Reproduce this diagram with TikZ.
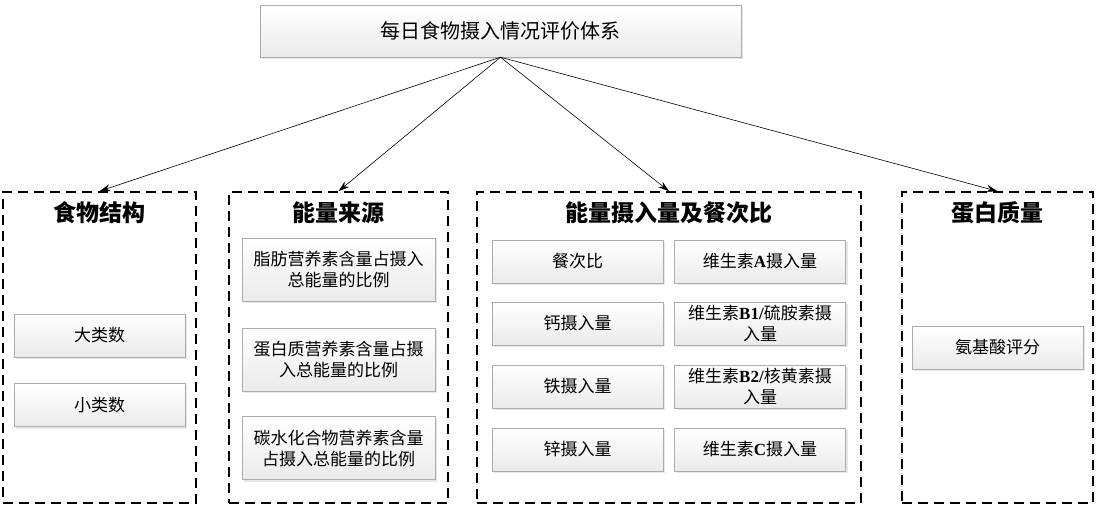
\documentclass[tikz,border=0pt]{standalone}
\usepackage{fontspec}
\setmainfont{Noto Sans CJK SC}
\newfontfamily\latf{Liberation Serif}
\usetikzlibrary{arrows.meta,shadows}
\newcommand{\vit}[1]{{\latf\bfseries #1}}

\begin{document}
\begin{tikzpicture}[x=1pt, y=-1pt, >={Stealth[length=11pt,width=7pt]},
    item/.style={draw=gray!65, top color=white, bottom color=gray!16,
        drop shadow={opacity=0.2, shadow xshift=2pt, shadow yshift=-2pt},
        minimum width=171pt, minimum height=43pt, inner sep=2pt,
        align=center, font=\fontsize{17}{21}\selectfont},
    group/.style={draw, line width=1.5pt, dash pattern=on 10pt off 6pt,
        minimum height=311pt, inner sep=0pt},
    title/.style={font=\fontsize{23}{27}\selectfont\bfseries}]

    \useasboundingbox (0,0) rectangle (1098,508);

    % root
    \node[item, minimum width=481pt, minimum height=52pt,
        font=\fontsize{20}{24}\selectfont] (root) at (500.5,31)
        {每日食物摄入情况评价体系};

    % groups
    \node[group, minimum width=193pt] (g1) at (99.5,347.5) {};
    \node[group, minimum width=219pt] (g2) at (338.5,347.5) {};
    \node[group, minimum width=384pt] (g3) at (669,347.5) {};
    \node[group, minimum width=191pt] (g4) at (997.5,347.5) {};

    \node[title] (t1) at (99.5,213) {食物结构};
    \node[title] (t2) at (338.5,213) {能量来源};
    \node[title] (t3) at (669,213) {能量摄入量及餐次比};
    \node[title] (t4) at (997.5,213) {蛋白质量};

    % arrows
    \foreach \g in {g1,g2,g3,g4}{
        \draw[->, line width=0.6pt] (root.south) -- (\g.north);
    }

    % food structure
    \node[item] (big) at (99.5,335.5) {大类数};
    \node[item] (small) at (99.5,405) {小类数};

    % energy source
    \node[item, minimum width=193pt, minimum height=63pt] (fat) at (338.5,269.5)
        {脂肪营养素含量占摄入\\总能量的比例};
    \node[item, minimum width=193pt, minimum height=63pt] (prot) at (338.5,359.5)
        {蛋白质营养素含量占摄\\入总能量的比例};
    \node[item, minimum width=193pt, minimum height=63pt] (carb) at (338.5,448)
        {碳水化合物营养素含量\\占摄入总能量的比例};

    % energy intake
    \node[item] (meal) at (577.5,261.5) {餐次比};
    \node[item] (ca) at (577.5,323.5) {钙摄入量};
    \node[item] (fe) at (577.5,386.5) {铁摄入量};
    \node[item] (zn) at (577.5,449.5) {锌摄入量};
    \node[item] (va) at (760,261.5) {维生素\vit{A}摄入量};
    \node[item] (vb1) at (760,323.5) {维生素\vit{B1/}硫胺素摄\\入量};
    \node[item] (vb2) at (760,386.5) {维生素\vit{B2/}核黄素摄\\入量};
    \node[item] (vc) at (760,449.5) {维生素\vit{C}摄入量};

    % protein quality
    \node[item] (amino) at (997.5,347.5) {氨基酸评分};
\end{tikzpicture}
\end{document}
